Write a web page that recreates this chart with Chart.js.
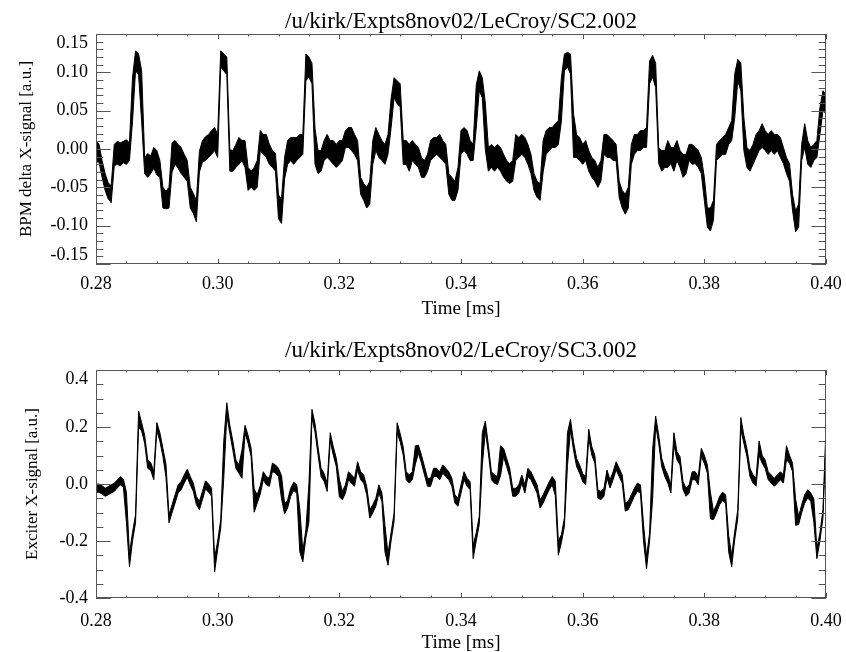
<!DOCTYPE html>
<html>
<head>
<meta charset="utf-8">
<title>LeCroy SC2 / SC3</title>
<script src="https://cdn.jsdelivr.net/npm/chart.js@4.4.1/dist/chart.umd.min.js"></script>
<style>
  html, body { margin: 0; padding: 0; background: #fff; overflow: hidden; }
  #wrap { position: relative; width: 846px; height: 652px; overflow: hidden; }
  canvas { position: absolute; left: 0; }
  #bpm-chart { top: 0; }
  #exciter-chart { top: 326px; }
</style>
</head>
<body>
<div id="wrap">
  <canvas id="bpm-chart" width="846" height="326"></canvas>
  <canvas id="exciter-chart" width="846" height="330"></canvas>
</div>
<script>
'use strict';

// #pragma Data

// both channels share one time base: 241 samples, 0.28 .. 0.40 ms
let timeStart = 0.28;
let timeStep = 0.0005;
let timeTicks = [0.28, 0.30, 0.32, 0.34, 0.36, 0.38, 0.40];

// SC2: BPM delta X-signal, upper / lower edge of the noise band per sample
let bpmTicks = [-0.15, -0.10, -0.05, 0, 0.05, 0.10, 0.15];
let bpmHigh = [
  0.011, 0.006, -0.015, -0.032, -0.044, -0.048, 0.006, 0.010, 0.008, 0.010,
  0.012, 0.008, 0.093, 0.128, 0.124, 0.102, -0.011, -0.006, -0.009, 0.002,
  -0.002, -0.015, -0.050, -0.055, -0.050, 0.008, 0.011, 0.006, 0.002, -0.007,
  -0.015, -0.050, -0.058, -0.067, -0.003, 0.011, 0.016, 0.019, 0.024, 0.028,
  0.019, 0.128, 0.124, 0.120, -0.001, -0.002, 0.006, 0.015, 0.011, 0.011,
  -0.024, -0.029, -0.024, -0.015, 0.024, 0.019, 0.019, 0.006, -0.002, -0.006,
  -0.060, -0.065, -0.011, 0.011, 0.015, 0.015, 0.015, 0.019, 0.019, 0.124,
  0.120, 0.112, 0.027, -0.002, -0.002, 0.011, 0.019, 0.011, 0.011, 0.006,
  0.011, 0.011, 0.024, 0.028, 0.028, 0.019, 0.011, -0.037, -0.045, -0.050,
  -0.042, 0.011, 0.028, 0.019, 0.011, 0.006, 0.019, 0.065, 0.093, 0.089,
  0.085, 0.011, 0.011, 0.006, 0.011, 0.006, 0.002, -0.011, -0.015, -0.007,
  0.011, 0.015, 0.015, 0.019, 0.011, 0.006, -0.032, -0.037, -0.042, -0.024,
  0.024, 0.028, 0.024, 0.011, 0.006, 0.083, 0.102, 0.093, 0.060, 0.002,
  0.006, 0.002, 0.006, 0.002, -0.007, -0.015, -0.019, -0.015, 0.019, 0.015,
  0.019, 0.015, 0.006, -0.007, -0.032, -0.042, -0.045, 0.011, 0.024, 0.028,
  0.028, 0.033, 0.037, 0.093, 0.124, 0.126, 0.124, 0.046, 0.019, 0.015,
  0.006, 0.011, -0.002, -0.011, -0.015, -0.024, -0.015, 0.019, 0.019, 0.015,
  0.011, 0.006, -0.042, -0.054, -0.059, -0.050, 0.006, 0.019, 0.019, 0.024,
  0.024, 0.028, 0.115, 0.122, 0.112, 0.002, -0.002, -0.002, 0.011, 0.002,
  0.002, 0.011, -0.002, -0.007, -0.007, 0.006, 0.006, 0.002, -0.002, -0.011,
  -0.037, -0.077, -0.077, -0.067, 0.006, 0.011, 0.015, 0.019, 0.028, 0.037,
  0.098, 0.117, 0.112, 0.041, 0.002, -0.002, 0.006, 0.019, 0.024, 0.033,
  0.024, 0.019, 0.024, 0.019, 0.019, 0.015, 0.002, -0.011, -0.019, -0.059,
  -0.081, -0.072, 0.006, 0.033, 0.011, 0.002, 0.006, 0.011, 0.054, 0.076, 0.071,
];
let bpmLow = [
  -0.017, -0.017, -0.037, -0.054, -0.065, -0.070, -0.022, -0.020, -0.022, -0.018,
  -0.020, -0.015, 0.036, 0.102, 0.097, 0.036, -0.032, -0.037, -0.032, -0.025,
  -0.034, -0.037, -0.077, -0.078, -0.077, -0.030, -0.020, -0.025, -0.032, -0.037,
  -0.042, -0.077, -0.084, -0.095, -0.030, -0.017, -0.015, -0.011, -0.007, -0.002,
  -0.011, 0.107, 0.102, 0.097, -0.029, -0.029, -0.024, -0.020, -0.015, -0.024,
  -0.054, -0.050, -0.054, -0.050, -0.002, -0.007, -0.011, -0.020, -0.024, -0.029,
  -0.091, -0.097, -0.039, -0.020, -0.015, -0.020, -0.015, -0.011, -0.007, 0.089,
  0.094, 0.085, -0.020, -0.032, -0.029, -0.015, -0.011, -0.015, -0.020, -0.024,
  -0.020, -0.015, 0.002, 0.002, -0.002, -0.007, -0.015, -0.059, -0.067, -0.077,
  -0.072, -0.020, -0.002, -0.011, -0.015, -0.020, -0.007, 0.027, 0.067, 0.059,
  0.055, -0.020, -0.020, -0.029, -0.015, -0.020, -0.024, -0.037, -0.037, -0.029,
  -0.015, -0.011, -0.007, -0.011, -0.015, -0.020, -0.059, -0.067, -0.067, -0.054,
  -0.007, -0.002, -0.007, -0.015, -0.015, 0.027, 0.076, 0.067, -0.001, -0.029,
  -0.024, -0.029, -0.024, -0.029, -0.037, -0.042, -0.045, -0.042, -0.015, -0.011,
  -0.007, -0.011, -0.020, -0.032, -0.054, -0.063, -0.067, -0.030, -0.007, -0.002,
  0.002, 0.002, 0.006, 0.036, 0.102, 0.107, 0.098, -0.011, -0.011, -0.015,
  -0.020, -0.015, -0.029, -0.037, -0.042, -0.050, -0.042, -0.007, -0.011, -0.011,
  -0.015, -0.015, -0.063, -0.077, -0.085, -0.077, -0.020, -0.007, -0.002, -0.002,
  0.002, 0.002, 0.085, 0.094, 0.080, -0.019, -0.029, -0.024, -0.024, -0.019,
  -0.029, -0.015, -0.024, -0.037, -0.032, -0.015, -0.020, -0.019, -0.024, -0.032,
  -0.067, -0.102, -0.107, -0.093, -0.015, -0.011, -0.007, -0.007, 0.006, 0.011,
  0.041, 0.089, 0.076, -0.002, -0.024, -0.029, -0.020, -0.011, -0.002, 0.002,
  -0.002, -0.007, -0.002, -0.007, -0.002, -0.011, -0.019, -0.032, -0.042, -0.080,
  -0.108, -0.102, -0.015, 0.002, -0.020, -0.024, -0.015, -0.011, 0.019, 0.050, 0.046,
];

// SC3: exciter X-signal, same layout
let exciterTicks = [-0.4, -0.2, 0, 0.2, 0.4];
let exciterHigh = [
  -0.001, 0.000, -0.006, -0.015, -0.009, -0.003, 0.003, 0.014, 0.026, 0.017,
  -0.029, -0.245, -0.170, -0.108, 0.256, 0.215, 0.171, 0.085, 0.075, 0.043,
  0.215, 0.180, 0.125, 0.070, -0.108, -0.073, -0.038, -0.003, 0.009, 0.032,
  0.052, 0.026, 0.003, -0.044, -0.061, -0.026, 0.011, 0.000, -0.015, -0.260,
  -0.200, -0.125, 0.150, 0.285, 0.206, 0.150, 0.084, 0.067, 0.120, 0.206,
  0.171, 0.125, -0.017, -0.038, -0.006, 0.043, 0.026, 0.020, 0.073, 0.067,
  0.055, 0.029, -0.070, -0.056, -0.015, 0.006, -0.003, -0.087, -0.235, -0.160,
  0.000, 0.262, 0.212, 0.130, 0.055, 0.037, 0.003, 0.180, 0.131, 0.090,
  0.017, -0.026, -0.003, 0.043, 0.032, 0.020, 0.078, 0.043, 0.032, -0.009,
  -0.090, -0.073, -0.050, -0.003, -0.032, -0.145, -0.245, -0.172, -0.102, 0.215,
  0.177, 0.130, 0.043, 0.032, 0.043, 0.134, 0.136, 0.101, 0.061, 0.020,
  0.020, 0.055, 0.055, 0.043, 0.067, 0.055, 0.043, 0.020, -0.038, -0.050,
  -0.003, 0.043, 0.020, 0.008, -0.215, -0.172, -0.113, 0.180, 0.221, 0.136,
  0.043, 0.032, 0.026, 0.134, 0.125, 0.090, 0.055, -0.015, -0.015, -0.003,
  0.032, -0.003, 0.055, 0.043, 0.020, -0.003, -0.056, -0.038, -0.015, 0.008,
  0.026, 0.010, -0.200, -0.178, -0.119, 0.180, 0.227, 0.148, 0.090, 0.067,
  0.037, 0.026, 0.192, 0.131, 0.101, -0.021, -0.026, -0.015, 0.049, 0.014,
  0.043, 0.078, 0.055, 0.032, -0.067, -0.061, -0.038, -0.015, 0.003, -0.003,
  -0.140, -0.255, -0.172, 0.122, 0.238, 0.171, 0.090, 0.055, 0.032, -0.003,
  0.180, 0.113, 0.096, 0.008, -0.015, -0.003, 0.043, 0.043, 0.026, 0.125,
  0.101, 0.067, -0.029, -0.096, -0.073, -0.044, -0.029, -0.038, -0.180, -0.250,
  -0.166, -0.090, 0.233, 0.171, 0.125, 0.055, 0.032, 0.020, 0.151, 0.101,
  0.084, 0.043, 0.032, 0.020, 0.032, 0.043, 0.032, 0.134, 0.101, 0.073,
  -0.052, -0.114, -0.073, -0.038, -0.020, -0.032, -0.052, -0.225, -0.172, -0.090, 0.200,
];
let exciterLow = [
  -0.029, -0.029, -0.035, -0.043, -0.038, -0.032, -0.026, -0.014, -0.003, -0.011,
  -0.134, -0.291, -0.200, -0.136, 0.200, 0.186, 0.143, 0.055, 0.047, 0.015,
  0.186, 0.151, 0.096, 0.025, -0.136, -0.101, -0.067, -0.032, -0.020, 0.003,
  0.024, -0.003, -0.026, -0.072, -0.090, -0.055, -0.017, -0.029, -0.043, -0.308,
  -0.230, -0.155, 0.020, 0.240, 0.178, 0.118, 0.055, 0.038, 0.020, 0.178,
  0.143, 0.096, -0.099, -0.067, -0.035, 0.015, -0.003, -0.008, 0.044, 0.038,
  0.026, -0.052, -0.105, -0.084, -0.043, -0.023, -0.032, -0.238, -0.273, -0.189,
  -0.134, 0.232, 0.183, 0.102, 0.026, 0.009, -0.026, 0.151, 0.102, 0.061,
  -0.045, -0.055, -0.032, 0.015, 0.003, -0.008, 0.050, 0.015, 0.003, -0.037,
  -0.120, -0.101, -0.078, -0.032, -0.061, -0.238, -0.285, -0.200, -0.131, 0.180,
  0.148, 0.102, 0.015, 0.003, 0.015, 0.070, 0.108, 0.073, 0.032, -0.008,
  -0.008, 0.026, 0.026, 0.015, 0.038, 0.026, 0.015, -0.008, -0.067, -0.078,
  -0.032, 0.015, -0.008, -0.020, -0.262, -0.200, -0.142, 0.064, 0.185, 0.108,
  0.015, 0.003, -0.002, 0.029, 0.096, 0.061, 0.026, -0.043, -0.043, -0.032,
  0.003, -0.032, 0.026, 0.015, -0.008, -0.032, -0.084, -0.067, -0.043, -0.020,
  -0.003, -0.040, -0.250, -0.206, -0.148, 0.064, 0.190, 0.119, 0.061, 0.038,
  0.009, -0.003, 0.160, 0.102, 0.073, -0.049, -0.055, -0.043, 0.021, -0.014,
  0.015, 0.050, 0.026, 0.003, -0.095, -0.090, -0.067, -0.043, -0.026, -0.032,
  -0.200, -0.297, -0.200, -0.052, 0.205, 0.143, 0.061, 0.026, 0.003, -0.032,
  0.137, 0.085, 0.067, -0.020, -0.043, -0.032, 0.015, 0.015, -0.003, 0.096,
  0.073, 0.038, -0.122, -0.125, -0.101, -0.073, -0.058, -0.067, -0.238, -0.290,
  -0.194, -0.120, 0.190, 0.143, 0.096, 0.026, 0.003, -0.008, 0.100, 0.073,
  0.055, 0.015, 0.003, -0.008, 0.003, 0.015, 0.003, 0.085, 0.073, 0.044,
  -0.145, -0.142, -0.101, -0.067, -0.049, -0.061, -0.134, -0.262, -0.200, -0.119, 0.160,
];

// #pragma Helpers

let serif = '"Liberation Serif", "Times New Roman", serif';
let inkColor = '#000';
let frameColor = '#555';

function samples(values) {
  return values.map((v, i) => ({ x: timeStart + i * timeStep, y: v }));
}

function tickText(value, digits) {
  let text = value.toFixed(digits);
  return Number(text) === 0 ? text.replace('-', '') : text;
}

// IDL style box: frame plus inward major/minor ticks on all four sides
let frameTicks = {
  id: 'frameTicks',
  afterDatasetsDraw(chart, args, opts) {
    let { ctx, chartArea: a, scales: { x, y } } = chart;
    ctx.save();
    ctx.strokeStyle = opts.color;
    ctx.lineWidth = 1;
    ctx.beginPath();

    let steps = (scale, minor, major) => {
      let out = [];
      let n = Math.round((scale.max - scale.min) / minor);
      for (let k = 0; k <= n; k++) {
        let v = scale.min + k * minor;
        let r = v / major;
        out.push([v, Math.abs(r - Math.round(r)) < 1e-6]);
      }
      return out;
    };

    for (let [v, isMajor] of steps(x, opts.xMinor, opts.xMajor)) {
      let px = Math.round(x.getPixelForValue(v)) + 0.5;
      let len = isMajor ? opts.xLen : opts.xLen / 2;
      ctx.moveTo(px, a.bottom); ctx.lineTo(px, a.bottom - len);
      ctx.moveTo(px, a.top); ctx.lineTo(px, a.top + len);
    }
    for (let [v, isMajor] of steps(y, opts.yMinor, opts.yMajor)) {
      let py = Math.round(y.getPixelForValue(v)) + 0.5;
      let len = isMajor ? opts.yLen : opts.yLen / 2;
      ctx.moveTo(a.left, py); ctx.lineTo(a.left + len, py);
      ctx.moveTo(a.right, py); ctx.lineTo(a.right - len, py);
    }
    ctx.stroke();
    ctx.strokeRect(Math.round(a.left) + 0.5, Math.round(a.top) + 0.5,
      Math.round(a.width) - 1, Math.round(a.height) - 1);
    ctx.restore();
  },
};

function buildPanel(canvasId, p) {
  let ctx = document.getElementById(canvasId).getContext('2d');
  let yMin = p.ticks[0];
  let yMax = p.ticks[p.ticks.length - 1];

  // end labels sit a little inside the box, as IDL draws them
  let yLabel = (v) => {
    let text = tickText(v, p.digits);
    if (p.nudgeTop && Math.abs(v - yMax) < 1e-9) return ['', text];
    if (p.nudgeBottom && Math.abs(v - yMin) < 1e-9) return [text, ''];
    return text;
  };

  return new Chart(ctx, {
    type: 'line',
    data: {
      datasets: [
        { data: samples(p.high), fill: '+1', backgroundColor: inkColor,
          borderColor: inkColor, borderWidth: 1, pointRadius: 0 },
        { data: samples(p.low), fill: false,
          borderColor: inkColor, borderWidth: 1, pointRadius: 0 },
      ],
    },
    options: {
      responsive: false,
      animation: false,
      events: [],
      layout: { padding: { left: 0, right: 20, top: 0, bottom: 0 } },
      plugins: {
        legend: { display: false },
        tooltip: { enabled: false },
        title: {
          display: true, text: p.title, fullSize: false, color: inkColor,
          font: { family: serif, size: 23, weight: 'normal', lineHeight: 1 },
          padding: p.titlePad,
        },
        frameTicks: {
          color: frameColor,
          xMinor: 0.005, xMajor: 0.02, xLen: 5,
          yMinor: p.yMinor, yMajor: p.yMajor, yLen: 14.6,
        },
      },
      scales: {
        x: {
          type: 'linear', min: 0.28, max: 0.40,
          afterBuildTicks: (s) => { s.ticks = timeTicks.map((v) => ({ value: v })); },
          afterFit: (s) => {
            s.height = p.xAxisHeight;
            s.paddingLeft = 0;
            s.paddingRight = 0;
          },
          grid: { display: false, drawTicks: false },
          border: { display: false },
          ticks: {
            color: inkColor, padding: p.xLabelPad, maxRotation: 0, autoSkip: false,
            font: { family: serif, size: 18 },
            callback: (v) => tickText(v, 2),
          },
          title: {
            display: true, text: 'Time [ms]', color: inkColor,
            font: { family: serif, size: 19 },
            padding: { top: 0, bottom: p.xTitlePad },
          },
        },
        y: {
          type: 'linear', min: yMin, max: yMax,
          afterBuildTicks: (s) => { s.ticks = p.ticks.map((v) => ({ value: v })); },
          afterFit: (s) => { s.width = 96; },
          grid: { display: false, drawTicks: false },
          border: { display: false },
          ticks: {
            color: inkColor, padding: 8, autoSkip: false,
            font: { family: serif, size: 18, lineHeight: 1 },
            callback: yLabel,
          },
          title: {
            display: true, text: p.yTitle, color: inkColor,
            font: { family: serif, size: 17 },
            padding: { top: p.yTitlePad, bottom: 0 },
          },
        },
      },
    },
    plugins: [frameTicks],
  });
}

// #pragma Executable

buildPanel('bpm-chart', {
  title: '/u/kirk/Expts8nov02/LeCroy/SC2.002',
  yTitle: 'BPM delta X-signal [a.u.]',
  high: bpmHigh, low: bpmLow, ticks: bpmTicks, digits: 2,
  yMinor: 0.01, yMajor: 0.05, nudgeTop: true, nudgeBottom: true,
  titlePad: { top: 10.7, bottom: 0.3 },
  xAxisHeight: 62, xLabelPad: 9, xTitlePad: 6, yTitlePad: 16,
});

buildPanel('exciter-chart', {
  title: '/u/kirk/Expts8nov02/LeCroy/SC3.002',
  yTitle: 'Exciter X-signal [a.u.]',
  high: exciterHigh, low: exciterLow, ticks: exciterTicks, digits: 1,
  yMinor: 0.05, yMajor: 0.2, nudgeTop: true, nudgeBottom: false,
  titlePad: { top: 13.7, bottom: 7.3 },
  xAxisHeight: 58, xLabelPad: 12, xTitlePad: 2, yTitlePad: 22,
});
</script>
</body>
</html>
